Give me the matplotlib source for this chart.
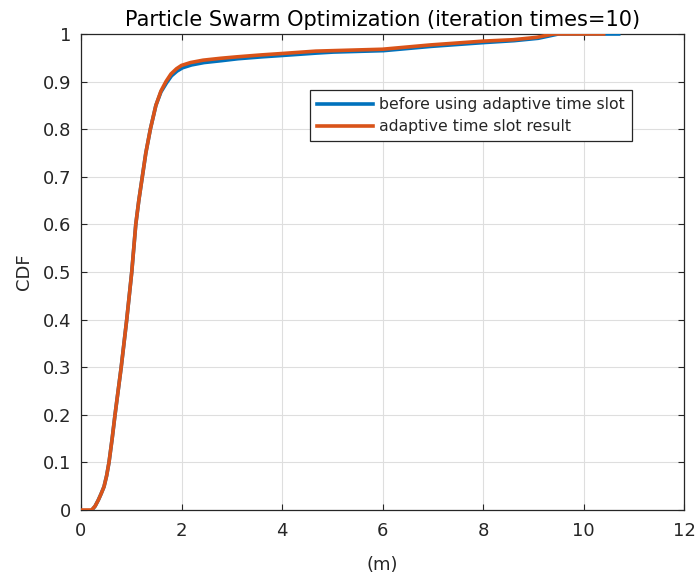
import matplotlib
matplotlib.use("Agg")
import matplotlib.pyplot as plt

# empirical CDF of positioning error, read at sample points
before_x = [0.22, 0.28, 0.345, 0.40, 0.458, 0.51, 0.557, 0.62, 0.677, 0.715, 0.80, 0.91, 1.01,
            1.09, 1.15, 1.22, 1.29, 1.38, 1.49, 1.59, 1.70, 1.80, 1.91, 2.02, 2.20, 2.45, 2.80,
            3.12, 3.60, 4.02, 4.70, 5.02, 6.02, 6.97, 8.02, 8.62, 9.10, 9.50, 10.70]
before_y = [0.000, 0.008, 0.021, 0.034, 0.049, 0.072, 0.100, 0.150, 0.200, 0.231, 0.300, 0.400,
            0.500, 0.600, 0.650, 0.700, 0.750, 0.800, 0.850, 0.878, 0.897, 0.912, 0.922, 0.929,
            0.935, 0.940, 0.944, 0.948, 0.952, 0.955, 0.960, 0.962, 0.965, 0.974, 0.982, 0.986,
            0.991, 1.000, 1.000]

adaptive_x = [0.00, 0.21, 0.28, 0.345, 0.40, 0.458, 0.51, 0.557, 0.62, 0.677, 0.715, 0.80, 0.91,
              1.01, 1.09, 1.15, 1.22, 1.29, 1.38, 1.49, 1.59, 1.69, 1.79, 1.90, 2.00, 2.18, 2.43,
              2.78, 3.10, 3.58, 4.00, 4.67, 5.00, 6.00, 6.95, 8.00, 8.60, 9.07, 9.40, 10.40]
adaptive_y = [0.000, 0.000, 0.008, 0.021, 0.034, 0.049, 0.072, 0.100, 0.150, 0.200, 0.231, 0.300,
              0.400, 0.500, 0.600, 0.650, 0.700, 0.750, 0.800, 0.850, 0.880, 0.900, 0.916, 0.927,
              0.934, 0.940, 0.945, 0.949, 0.952, 0.956, 0.959, 0.964, 0.965, 0.968, 0.977, 0.985,
              0.988, 0.993, 1.000, 1.000]

x_ticks = [0, 2, 4, 6, 8, 10, 12]
y_ticks = [0, 0.1, 0.2, 0.3, 0.4, 0.5, 0.6, 0.7, 0.8, 0.9, 1]
y_ticklabels = ["0", "0.1", "0.2", "0.3", "0.4", "0.5", "0.6", "0.7", "0.8", "0.9", "1"]

plt.rcParams['font.family'] = ['DejaVu Sans']
dark = '#262626'

fig = plt.figure(figsize=(6.97, 5.76), dpi=100)
ax = fig.add_axes([81 / 697, 1 - 510 / 576, 603 / 697, 476 / 576])

ax.plot(before_x, before_y, color='#0072BD', linewidth=2.6,
        label='before using adaptive time slot', zorder=3)
ax.plot(adaptive_x, adaptive_y, color='#D95319', linewidth=2.6,
        label='adaptive time slot result', zorder=4)

ax.set_xlim(0, 12)
ax.set_ylim(0, 1)
ax.set_xticks(x_ticks)
ax.set_yticks(y_ticks)
ax.set_yticklabels(y_ticklabels)
ax.grid(True, color='#dedede', linewidth=0.8)
ax.set_axisbelow(True)

for s in ax.spines.values():
    s.set_color(dark)
    s.set_linewidth(0.9)
ax.tick_params(direction='in', length=4.5, width=0.8, color=dark,
               top=True, right=True, labelsize=13, labelcolor=dark)
ax.tick_params(axis='x', pad=9)
ax.tick_params(axis='y', pad=7)

ax.set_title('Particle Swarm Optimization (iteration times=10)', fontsize=15,
             color='black', pad=6)
ax.set_xlabel('(m)', fontsize=13, color=dark, labelpad=11)
ax.set_ylabel('CDF', fontsize=13, color=dark, labelpad=7)

leg = ax.legend(loc='upper right', bbox_to_anchor=(0.913, 0.882), fontsize=11.3,
                handlelength=3.6, handletextpad=0.35, borderpad=0.45,
                labelspacing=0.45, borderaxespad=0, fancybox=False, framealpha=1)
leg.get_frame().set_edgecolor(dark)
leg.get_frame().set_linewidth(0.9)
for t in leg.get_texts():
    t.set_color(dark)

fig.savefig('out.png', dpi=100)
